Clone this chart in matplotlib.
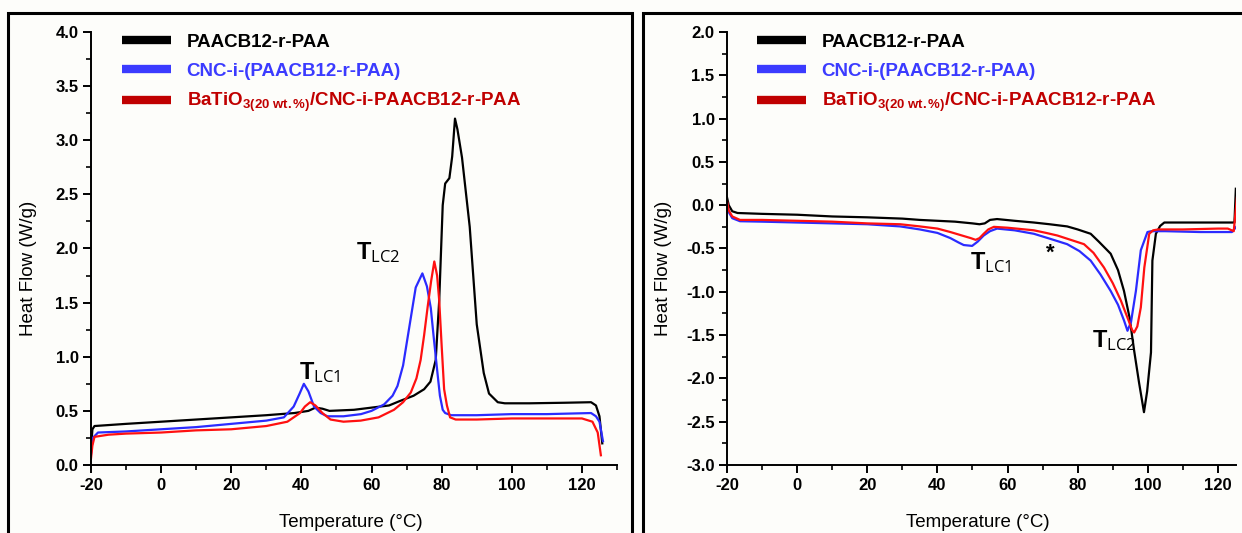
import matplotlib

matplotlib.use("Agg")
import matplotlib.pyplot as plt
from matplotlib.lines import Line2D
from matplotlib.patches import Rectangle
from matplotlib.ticker import MultipleLocator, FormatStrFormatter

plt.rcParams["font.family"] = ["Liberation Sans", "DejaVu Sans"]
plt.rcParams["axes.unicode_minus"] = False
plt.rcParams["mathtext.fontset"] = "custom"
plt.rcParams["mathtext.rm"] = "Open Sans"
plt.rcParams["mathtext.bf"] = "Liberation Sans:bold"
plt.rcParams["mathtext.it"] = "Open Sans:italic"

# ---- data: left panel (heating) ----
left_black_t = [-20, -19.6, -19, -10, 0, 10, 20, 30, 38, 42, 44, 46, 48, 55, 60, 65, 68, 72, 75,
                76.8, 78.3, 79.3, 80.3, 81, 82.2, 83, 83.8, 84.5, 85.8, 88, 90, 92, 93.5, 96, 98,
                105, 115, 122.6, 124, 125, 125.8]
left_black_v = [0.15, 0.33, 0.36, 0.38, 0.40, 0.42, 0.44, 0.46, 0.48, 0.50, 0.53, 0.52, 0.50, 0.51,
                0.53, 0.55, 0.59, 0.64, 0.70, 0.77, 0.97, 1.52, 2.40, 2.60, 2.65, 2.85, 3.20, 3.10,
                2.84, 2.20, 1.30, 0.85, 0.66, 0.58, 0.57, 0.57, 0.575, 0.58, 0.55, 0.45, 0.20]

left_blue_t = [-20, -19.5, -18, -10, 0, 10, 20, 30, 35, 37.8, 39.5, 40.7, 42, 43.6, 45.5, 47.4, 52,
               57, 60, 63.6, 66, 67.4, 69, 70.2, 71.5, 72.6, 74.5, 75.8, 76.9, 77.7, 78.8, 79.5,
               80.3, 81, 82.7, 90, 100, 110, 122.6, 124, 125, 126]
left_blue_v = [0.10, 0.25, 0.30, 0.31, 0.33, 0.35, 0.38, 0.41, 0.44, 0.54, 0.66, 0.75, 0.68, 0.54,
               0.48, 0.45, 0.45, 0.47, 0.50, 0.56, 0.64, 0.73, 0.92, 1.16, 1.42, 1.64, 1.77, 1.65,
               1.45, 1.19, 0.85, 0.64, 0.51, 0.48, 0.46, 0.46, 0.47, 0.47, 0.48, 0.45, 0.40, 0.22]

left_red_t = [-20, -19.6, -19, -15, -10, 0, 10, 20, 30, 36, 39.6, 41, 42.5, 44, 46, 48.3, 52, 56.9,
              62, 66.4, 69, 71.2, 72.8, 74, 75, 76, 77, 77.9, 78.7, 79.3, 80, 80.7, 81.5, 82.4, 84,
              90, 100, 110, 120, 123, 124.5, 125.4]
left_red_v = [0.06, 0.18, 0.26, 0.28, 0.29, 0.30, 0.32, 0.33, 0.36, 0.40, 0.48, 0.54, 0.58, 0.55,
              0.48, 0.42, 0.40, 0.41, 0.44, 0.51, 0.58, 0.67, 0.80, 0.97, 1.20, 1.46, 1.70, 1.88,
              1.75, 1.52, 1.10, 0.70, 0.55, 0.44, 0.42, 0.42, 0.43, 0.43, 0.43, 0.40, 0.30, 0.09]

# ---- data: right panel (cooling) ----
right_black_t = [-20, -19.5, -18.5, -17, -10, 0, 10, 20, 30, 35, 40, 45, 50, 52, 53.5, 55, 57, 62,
                 67.5, 72, 77, 80, 83.7, 86, 89.4, 91.5, 93.2, 94.8, 96.1, 97.5, 98.9, 99.8, 100.9,
                 101.3, 102.3, 103.5, 104.7, 110, 120, 124.7, 125.1]
right_black_v = [0.09, 0.0, -0.07, -0.09, -0.10, -0.11, -0.13, -0.14, -0.155, -0.17, -0.18, -0.19,
                 -0.21, -0.22, -0.21, -0.17, -0.16, -0.18, -0.20, -0.22, -0.245, -0.28, -0.33,
                 -0.42, -0.56, -0.75, -0.99, -1.30, -1.68, -2.05, -2.39, -2.15, -1.70, -0.64,
                 -0.33, -0.24, -0.20, -0.20, -0.20, -0.20, 0.19]

right_blue_t = [-20, -19.5, -18.5, -16.3, -10, 0, 10, 20, 29.4, 35, 40, 43.7, 46, 47.5, 49.9, 51.5,
                53.2, 55, 57, 62, 67.5, 72.3, 77, 80.5, 83.7, 86.5, 89.4, 91.5, 93.2, 94.2, 95.2,
                96.6, 98, 99.9, 101, 105, 115, 124, 125.2]
right_blue_v = [0.03, -0.08, -0.15, -0.185, -0.19, -0.20, -0.21, -0.22, -0.245, -0.28, -0.32,
                -0.38, -0.43, -0.46, -0.47, -0.42, -0.35, -0.30, -0.27, -0.29, -0.33, -0.39, -0.45,
                -0.53, -0.64, -0.80, -0.99, -1.15, -1.33, -1.45, -1.35, -0.99, -0.52, -0.31,
                -0.30, -0.30, -0.31, -0.31, -0.25]

right_red_t = [-20, -19.5, -18.5, -16.3, -10, 0, 10, 20, 29.4, 35, 40, 43.7, 47, 49.5, 50.9, 52,
               53.2, 54.5, 56.1, 60, 67.5, 71, 74.2, 78, 81.8, 84.5, 87.5, 90, 92.3, 94.5, 95.5,
               96.1, 97, 98, 99, 100.4, 101.5, 103, 110, 120, 122.8, 124.5, 125.4]
right_red_v = [0.05, -0.06, -0.13, -0.17, -0.17, -0.18, -0.19, -0.21, -0.22, -0.245, -0.27, -0.31,
               -0.35, -0.38, -0.40, -0.38, -0.33, -0.28, -0.25, -0.26, -0.29, -0.32, -0.35, -0.40,
               -0.45, -0.55, -0.72, -0.90, -1.10, -1.33, -1.44, -1.47, -1.40, -1.18, -0.72, -0.33,
               -0.29, -0.28, -0.28, -0.27, -0.27, -0.30, 0.09]

labels = ["PAACB12-r-PAA",
          "CNC-i-(PAACB12-r-PAA)",
          r"BaTiO$_{\mathbf{3(20\ wt.\%)}}$/CNC-i-PAACB12-r-PAA"]
line_colors = ["#000000", "#2b2bff", "#ff1010"]
legend_colors = ["#000000", "#3b3bff", "#c00000"]

W, H = 1242, 533
fig = plt.figure(figsize=(W / 100, H / 100), dpi=100, facecolor="#fdfdfa")

# panel frames
fig.add_artist(Rectangle((8 / W, -0.1), (632 - 8) / W, (H - 13) / H + 0.1,
                         transform=fig.transFigure, fill=False, lw=2.2, ec="black"))
fig.add_artist(Rectangle((643 / W, -0.1), (1270 - 643) / W, (H - 13) / H + 0.1,
                         transform=fig.transFigure, fill=False, lw=2.2, ec="black"))

ax1 = fig.add_axes([91 / W, (H - 465) / H, 526 / W, 433 / H])
ax2 = fig.add_axes([727 / W, (H - 465) / H, 508.5 / W, 433 / H])

ax1.plot(left_black_t, left_black_v, color=line_colors[0], lw=1.6)
ax1.plot(left_blue_t, left_blue_v, color=line_colors[1], lw=1.6)
ax1.plot(left_red_t, left_red_v, color=line_colors[2], lw=1.6)

ax2.plot(right_black_t, right_black_v, color=line_colors[0], lw=1.6)
ax2.plot(right_blue_t, right_blue_v, color=line_colors[1], lw=1.6)
ax2.plot(right_red_t, right_red_v, color=line_colors[2], lw=1.6)

ax1.set_xlim(-20, 130)
ax1.set_ylim(0, 4)
ax2.set_xlim(-20, 125)
ax2.set_ylim(-3, 2)

for ax, ylab_x in ((ax1, -0.103), (ax2, -0.108)):
    ax.set_facecolor("none")
    for side in ("top", "right"):
        ax.spines[side].set_visible(False)
    for side in ("left", "bottom"):
        ax.spines[side].set_linewidth(1.4)
    ax.xaxis.set_major_locator(MultipleLocator(20))
    ax.xaxis.set_minor_locator(MultipleLocator(10))
    ax.yaxis.set_major_locator(MultipleLocator(0.5))
    ax.yaxis.set_minor_locator(MultipleLocator(0.25))
    ax.yaxis.set_major_formatter(FormatStrFormatter("%.1f"))
    ax.tick_params(which="major", direction="out", length=6, width=1.4, labelsize=12, pad=3)
    ax.tick_params(which="minor", direction="out", length=3.5, width=1.2)
    for lab in ax.get_xticklabels() + ax.get_yticklabels():
        lab.set_fontweight("bold")
    ax.set_xlabel("Temperature (°C)", fontsize=13.5)
    ax.set_ylabel("Heat Flow (W/g)", fontsize=13.5)
    ax.xaxis.set_label_coords(0.494, -0.114)
    ax.yaxis.set_label_coords(ylab_x, 0.455)

    handles = [Line2D([], [], color=c, lw=6, solid_capstyle="butt") for c in legend_colors]
    leg = ax.legend(handles, labels, loc="upper left", bbox_to_anchor=(0.059, 0.996),
                    frameon=False, prop={"weight": "bold", "size": 13.5}, handlelength=2.6,
                    handletextpad=0.85, labelspacing=0.62, borderaxespad=0, borderpad=0)
    for t, c in zip(leg.get_texts(), legend_colors):
        t.set_color(c)

# transition labels
ax1.text(45.2, 0.85, r"$\mathbf{T}_{\mathrm{LC1}}$", fontsize=17, ha="center", va="center")
ax1.text(61.8, 1.96, r"$\mathbf{T}_{\mathrm{LC2}}$", fontsize=17, ha="center", va="center")
ax2.text(55.1, -0.66, r"$\mathbf{T}_{\mathrm{LC1}}$", fontsize=17, ha="center", va="center")
ax2.text(72.3, -0.55, "*", fontsize=16, fontweight="bold", ha="center", va="center")
ax2.text(90.3, -1.56, r"$\mathbf{T}_{\mathrm{LC2}}$", fontsize=17, ha="center", va="center")

fig.savefig("out.png", dpi=100, facecolor=fig.get_facecolor())
